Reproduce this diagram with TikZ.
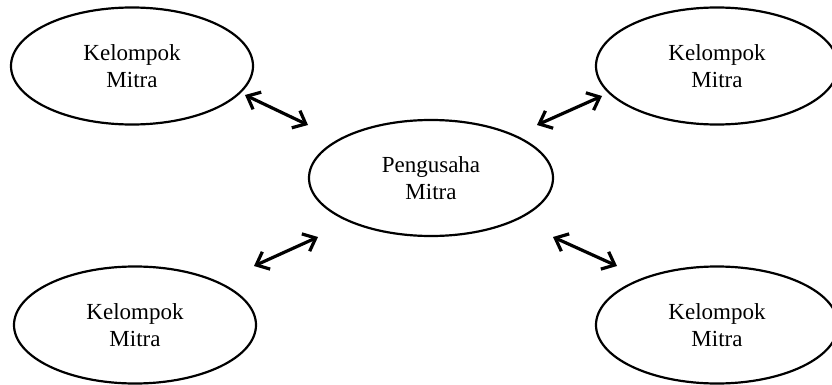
\documentclass[tikz,border=0pt]{standalone}
\usepackage{fontspec}
\setmainfont{Liberation Serif}
\usetikzlibrary{shapes.geometric,arrows.meta}
\begin{document}
\begin{tikzpicture}[x=1pt,y=-1pt,
  party/.style={draw=black,line width=2.2pt,ellipse,inner sep=0pt,
    minimum width=242pt,minimum height=117pt,align=center,
    font=\fontsize{23}{27.5}\selectfont},
  link/.style={line width=3.2pt,
    {Straight Barb[length=11pt,width=19pt]}-{Straight Barb[length=11pt,width=19pt]}}]
  \useasboundingbox (0,0) rectangle (832,385);
  % partners around the central entrepreneur
  \node[party] (tl) at (132,66) {Kelompok\\Mitra};
  \node[party] (tr) at (717,66) {Kelompok\\Mitra};
  \node[party,minimum width=244pt,minimum height=116pt] (c) at (431,178) {Pengusaha\\Mitra};
  \node[party] (bl) at (135,325) {Kelompok\\Mitra};
  \node[party] (br) at (717,325) {Kelompok\\Mitra};
  % free-standing two-way links
  \coordinate (tlA) at (245,95);  \coordinate (tlB) at (308,125);
  \coordinate (trA) at (537,125); \coordinate (trB) at (602,96);
  \coordinate (blA) at (254,266); \coordinate (blB) at (318,237);
  \coordinate (brA) at (553,237); \coordinate (brB) at (617,266);
  \draw[link] (tlA) -- (tlB);
  \draw[link] (trA) -- (trB);
  \draw[link] (blA) -- (blB);
  \draw[link] (brA) -- (brB);
\end{tikzpicture}
\end{document}
